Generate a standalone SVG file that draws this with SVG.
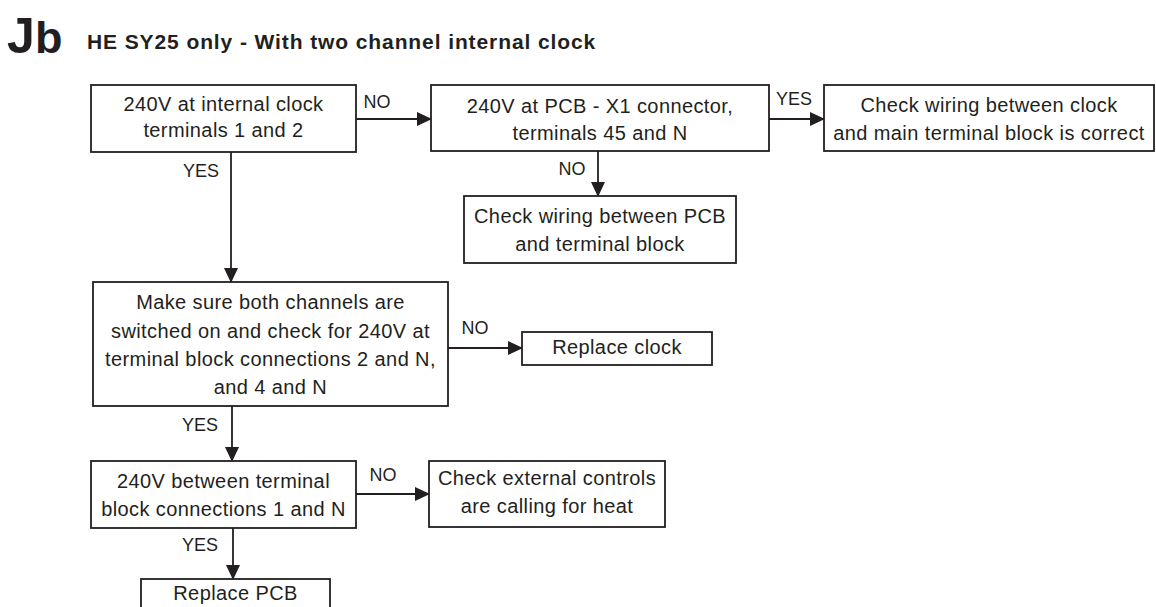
<svg xmlns="http://www.w3.org/2000/svg" width="1156" height="607" viewBox="0 0 1156 607">
<style>
.box{fill:#fff;stroke:#231f20;stroke-width:1.8}
.t{font-family:"Liberation Sans",Arial,sans-serif;font-size:20px;letter-spacing:0.4px;fill:#231f20;text-anchor:middle}
.lbl{font-family:"Liberation Sans",Arial,sans-serif;font-size:18px;fill:#231f20;text-anchor:middle}
.ln{stroke:#231f20;stroke-width:1.8;fill:none}
.title{font-family:"Liberation Sans",Arial,sans-serif;font-weight:bold;fill:#231f20}
</style>
<defs>
<marker id="ah" markerUnits="userSpaceOnUse" markerWidth="15" markerHeight="14" refX="14" refY="7" orient="auto">
<path d="M0,0 L15,7 L0,14 z" fill="#231f20"/>
</marker>
</defs>
<rect width="1156" height="607" fill="#fff"/>
<g id="title">
<text class="title" x="7" y="53" font-size="50">J</text>
<text class="title" x="35" y="53" font-size="45">b</text>
<text class="title" x="87" y="49" font-size="21" letter-spacing="0.9">HE SY25 only - With two channel internal clock</text>
</g>
<g id="connectors">
<line class="ln" x1="356" y1="119" x2="431" y2="119" marker-end="url(#ah)"/>
<line class="ln" x1="769" y1="119" x2="824" y2="119" marker-end="url(#ah)"/>
<line class="ln" x1="598" y1="151" x2="598" y2="196" marker-end="url(#ah)"/>
<line class="ln" x1="231" y1="152" x2="231" y2="282" marker-end="url(#ah)"/>
<line class="ln" x1="448" y1="348" x2="522" y2="348" marker-end="url(#ah)"/>
<line class="ln" x1="232" y1="406" x2="232" y2="461" marker-end="url(#ah)"/>
<line class="ln" x1="356" y1="494" x2="429" y2="494" marker-end="url(#ah)"/>
<line class="ln" x1="233" y1="528" x2="233" y2="579" marker-end="url(#ah)"/>
<text class="lbl" x="377" y="108">NO</text>
<text class="lbl" x="794" y="105">YES</text>
<text class="lbl" x="572" y="175">NO</text>
<text class="lbl" x="201" y="177">YES</text>
<text class="lbl" x="475" y="334">NO</text>
<text class="lbl" x="200" y="431">YES</text>
<text class="lbl" x="383" y="481">NO</text>
<text class="lbl" x="200" y="551">YES</text>
</g>
<g id="n1">
<rect class="box" x="91" y="85" width="265" height="67"/>
<text class="t" x="223.5" y="111">240V at internal clock</text>
<text class="t" x="223.5" y="137">terminals 1 and 2</text>
</g>
<g id="n2">
<rect class="box" x="431" y="85" width="338" height="66"/>
<text class="t" x="600" y="113">240V at PCB - X1 connector,</text>
<text class="t" x="600" y="140">terminals 45 and N</text>
</g>
<g id="n3">
<rect class="box" x="824" y="85" width="330" height="66"/>
<text class="t" x="989" y="112">Check wiring between clock</text>
<text class="t" x="989" y="140">and main terminal block is correct</text>
</g>
<g id="n4">
<rect class="box" x="464" y="196" width="272" height="67"/>
<text class="t" x="600" y="223">Check wiring between PCB</text>
<text class="t" x="600" y="251">and terminal block</text>
</g>
<g id="n5">
<rect class="box" x="93" y="282" width="355" height="124"/>
<text class="t" x="270.5" y="309">Make sure both channels are</text>
<text class="t" x="270.5" y="338">switched on and check for 240V at</text>
<text class="t" x="270.5" y="366">terminal block connections 2 and N,</text>
<text class="t" x="270.5" y="394">and 4 and N</text>
</g>
<g id="n6">
<rect class="box" x="522" y="332" width="190" height="33"/>
<text class="t" x="617" y="354">Replace clock</text>
</g>
<g id="n7">
<rect class="box" x="91" y="461" width="265" height="67"/>
<text class="t" x="223.5" y="488">240V between terminal</text>
<text class="t" x="223.5" y="516">block connections 1 and N</text>
</g>
<g id="n8">
<rect class="box" x="429" y="461" width="236" height="66"/>
<text class="t" x="547" y="485">Check external controls</text>
<text class="t" x="547" y="513">are calling for heat</text>
</g>
<g id="n9">
<rect class="box" x="141" y="579" width="189" height="40"/>
<text class="t" x="235.5" y="600">Replace PCB</text>
</g>
</svg>
